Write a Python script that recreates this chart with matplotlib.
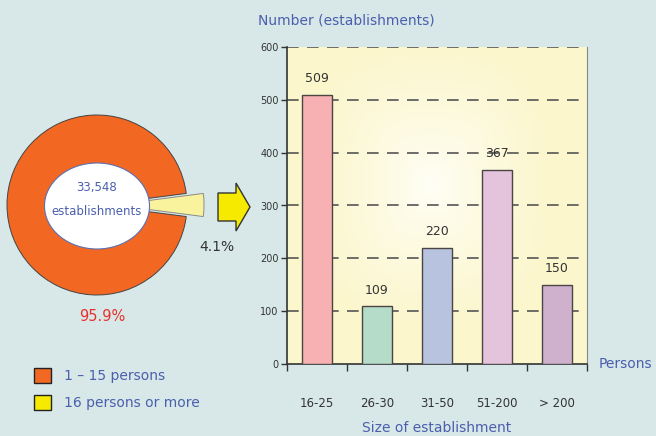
import matplotlib.pyplot as plt
import matplotlib.patches as mpatches
import numpy as np

# establishments by size
sizes = ['16-25', '26-30', '31-50', '51-200', '> 200']
counts = [509, 109, 220, 367, 150]
bar_colors = ['#f7b1b2', '#b5dbc9', '#b8c3df', '#e4c3dc', '#cfb0cd']

# share of all establishments
share_labels = ['16 persons or more', '1 \u2013 15 persons']
share_pct = [4.1, 95.9]
total_est = '33,548'

bg = '#d8e8e8'
blue = '#4a5fae'
dark = '#333333'

plt.rcParams['font.family'] = 'DejaVu Sans'

fig = plt.figure(figsize=(6.56, 4.36), dpi=100)
fig.patch.set_facecolor(bg)

# ---- bar chart ----
ax = fig.add_axes([287/656, 1-364/436, 300/656, 317/436])
x = np.arange(len(sizes))

# soft yellow glow behind the bars, whitish in the middle
gx, gy = np.meshgrid(np.linspace(-1, 1, 200), np.linspace(-1, 1, 200))
dx = (gx + 0.04) / 0.8
dy = (gy + 0.12) / 0.9
r = np.clip((np.abs(dx)**3 + np.abs(dy)**3)**(1/3), 0, 1)
c_in = np.array([1.0, 1.0, 0.97])
c_out = np.array([0.985, 0.965, 0.80])
img = c_in + (c_out - c_in) * r[..., None]**0.8
ax.imshow(img, extent=[0, 1, 0, 1], transform=ax.transAxes, aspect='auto', zorder=0)

ax.bar(x, counts, width=0.5, color=bar_colors, edgecolor='#4a4444', linewidth=1, zorder=3)
for xi, v in zip(x, counts):
    ax.annotate(str(v), (xi, v), xytext=(0, 7), textcoords='offset points',
                ha='center', va='bottom', fontsize=9, color=dark)

ax.set_xlim(-0.5, 4.5)
ax.set_ylim(0, 600)
ax.set_yticks(range(0, 601, 100))
ax.tick_params(axis='y', labelsize=7, colors=dark, length=4, width=1, pad=2)
for yv in range(100, 601, 100):
    ax.axhline(yv, color='#555555', lw=1.2, dashes=(7, 5), zorder=2)

ax.set_xticks(np.arange(-0.5, 5, 1))
ax.set_xticklabels([])
ax.tick_params(axis='x', length=5, width=1, colors='#333333')
ax.set_xticks(x, minor=True)
ax.set_xticklabels(sizes, minor=True, fontsize=8.5, color=dark)
ax.tick_params(axis='x', which='minor', length=0, pad=24)

ax.spines['top'].set_visible(False)
ax.spines['right'].set_color('#888888')
ax.spines['left'].set_color('#333333')
ax.spines['bottom'].set_color('#333333')
ax.spines['bottom'].set_linewidth(1.2)
ax.spines['left'].set_linewidth(1.2)

# ---- overlay in pixel units: donut, arrow, captions, legend ----
ov = fig.add_axes([0, 0, 1, 1], facecolor='none')
wedges, _ = ov.pie(share_pct, colors=['#f8f39c', '#f26722'], startangle=-share_pct[0]*3.6/2,
                   radius=90, center=(97, 205), explode=[17, 0],
                   wedgeprops=dict(linewidth=0.7, edgecolor='#444444'))
wedges[0].set_edgecolor('#8a8a8a')
ov.add_patch(mpatches.Ellipse((97, 206), 105, 86, facecolor='white', edgecolor='#5d6fb0',
                              linewidth=0.8, zorder=5))
ov.add_patch(mpatches.FancyArrow(218, 207, 18, 0, width=28, head_width=48, head_length=14,
                                 length_includes_head=False, facecolor='#f6ea00',
                                 edgecolor='#333333', linewidth=1, zorder=5))
ov.set_xlim(0, 656)
ov.set_ylim(436, 0)
ov.set_aspect('auto')
ov.axis('off')

ov.text(97, 187, total_est, ha='center', va='center', fontsize=8.5, color=blue, zorder=6)
ov.text(97, 211, 'establishments', ha='center', va='center', fontsize=8.5, color=blue, zorder=6)
ov.text(217, 247, f'{share_pct[0]}%', ha='center', va='center', fontsize=10, color=dark)
ov.text(102, 316, f'{share_pct[1]}%', ha='center', va='center', fontsize=10.5, color='#e8312b')

ov.text(258, 20, 'Number (establishments)', ha='left', va='center', fontsize=10, color=blue)
ov.text(599, 364, 'Persons', ha='left', va='center', fontsize=10, color=blue)
ov.text(437, 428, 'Size of establishment', ha='center', va='center', fontsize=10, color=blue)

handles = [mpatches.Patch(facecolor='#f26722', edgecolor='#222222', label=share_labels[1]),
           mpatches.Patch(facecolor='#f6ea00', edgecolor='#222222', label=share_labels[0])]
ov.legend(handles=handles, loc='upper left', bbox_to_anchor=(34/656, 1-368/436),
          frameon=False, fontsize=10, labelcolor=blue, handlelength=1.25, handleheight=1.25,
          handletextpad=0.9, labelspacing=0.85, borderaxespad=0, borderpad=0)

fig.savefig('out.png', dpi=100, facecolor=bg)
